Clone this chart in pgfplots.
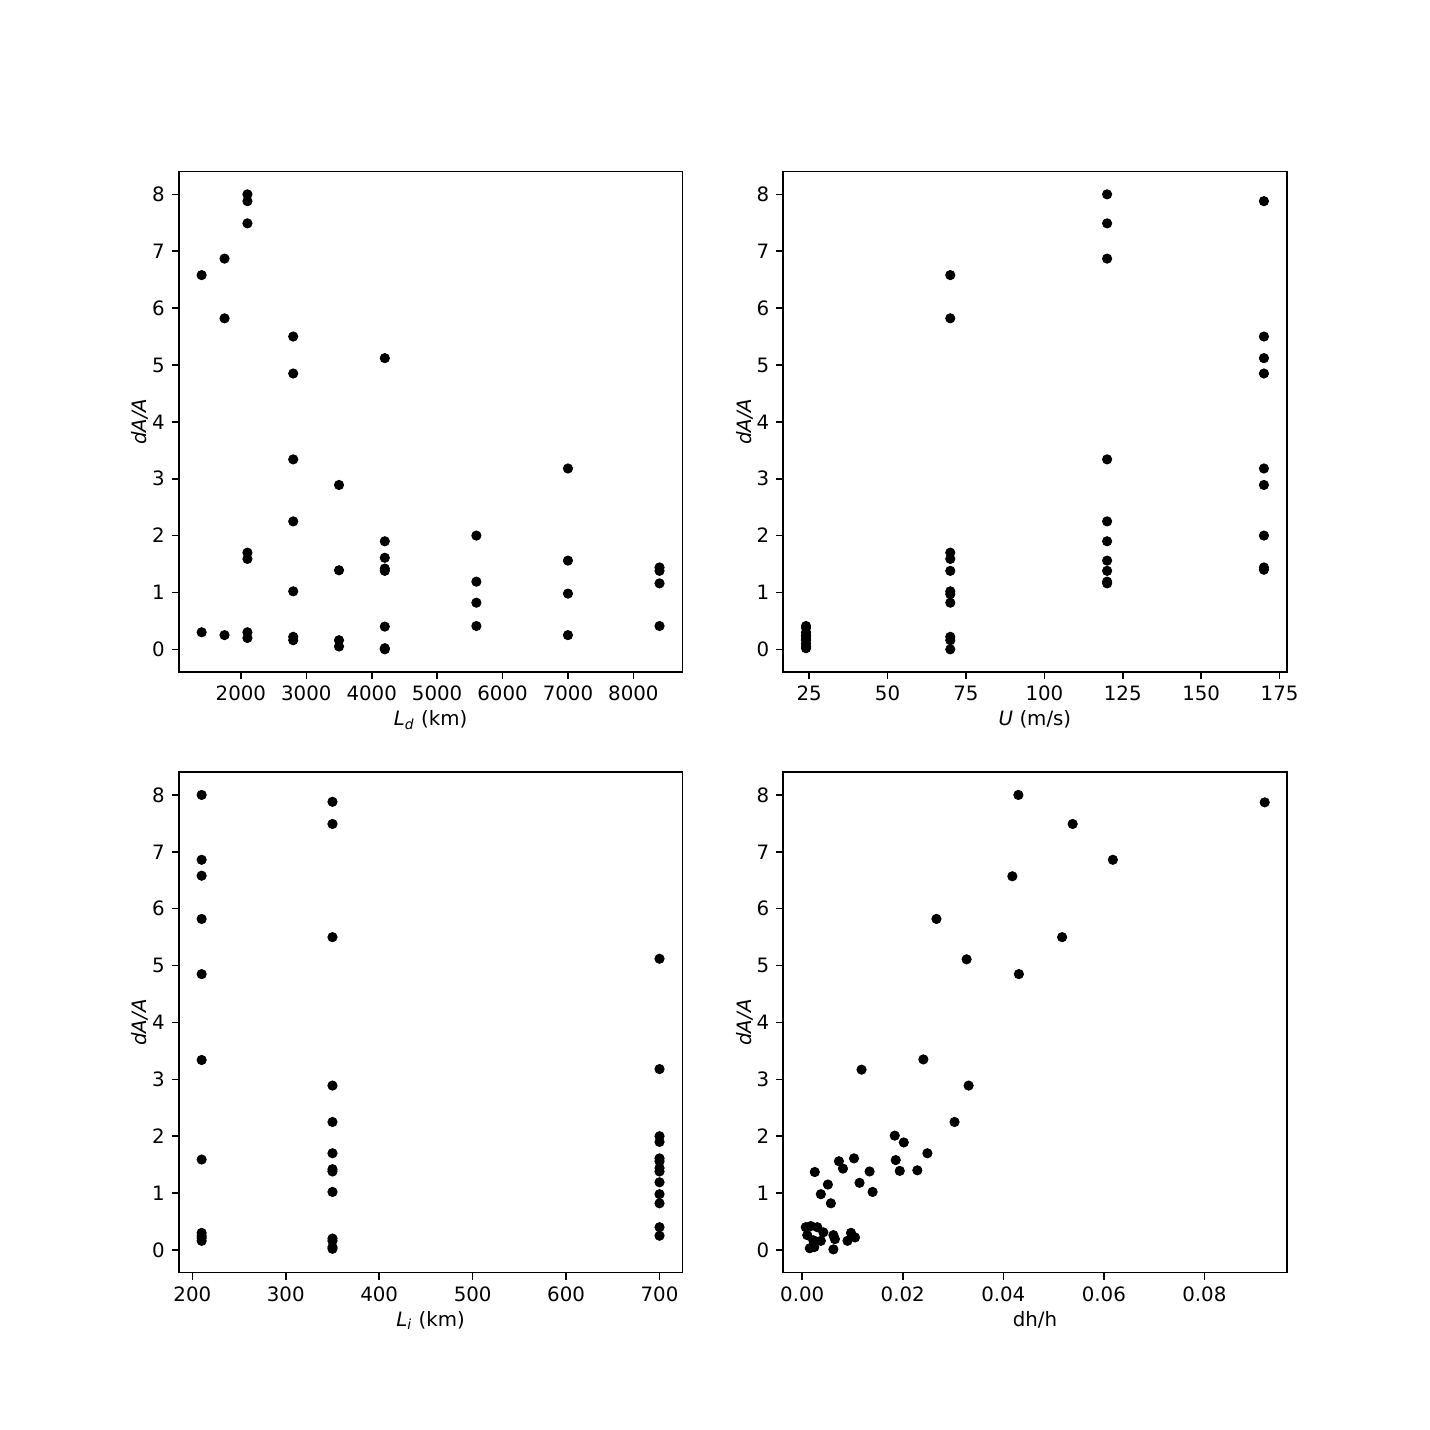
\documentclass[border=0pt]{standalone}
\usepackage{pgfplots}
\pgfplotsset{compat=1.18}
\usepackage{fontspec}
\setmainfont{DejaVu Sans}

\pgfplotsset{
  panel/.style={
    scale only axis, width=253.6bp, height=252bp, anchor=south west,
    ymin=-0.4, ymax=8.4, ytick={0,1,2,3,4,5,6,7,8},
    tick pos=left, tick align=outside, major tick length=3.5bp,
    every tick/.style={black, line width=0.8bp},
    axis line style={line width=0.8bp},
    ylabel={\textit{dA/A}},
    ylabel shift=-5bp, xlabel shift=-2bp,
    /pgf/number format/assume math mode=true,
    /pgf/number format/1000 sep={},
    scaled x ticks=false,
    tick label style={font=\fontsize{10}{12}\selectfont},
    label style={font=\fontsize{10}{12}\selectfont},
  },
  dots/.style={only marks, mark=*, mark size=2.35bp, black},
}

\begin{document}
\begin{tikzpicture}
\path[use as bounding box] (0,0) rectangle (720bp,720bp);

%% top left: L_d
\begin{axis}[panel, at={(90bp,381.6bp)},
  xmin=1050, xmax=8750, xtick={2000,3000,4000,5000,6000,7000,8000},
  xlabel={\textit{L}\textsubscript{\textit{d}} (km)}]
\addplot[dots] coordinates {
  (1400,6.58) (1400,0.30)
  (1750,6.87) (1750,5.82) (1750,0.25)
  (2100,8.00) (2100,7.88) (2100,7.49) (2100,1.70) (2100,1.59) (2100,0.30) (2100,0.20)
  (2800,5.50) (2800,4.85) (2800,3.34) (2800,2.25) (2800,1.02) (2800,0.22) (2800,0.16)
  (3500,2.89) (3500,1.39) (3500,0.16) (3500,0.05)
  (4200,5.12) (4200,1.90) (4200,1.61) (4200,1.42) (4200,1.38) (4200,0.40) (4200,0.02) (4200,0.00)
  (5600,2.00) (5600,1.19) (5600,0.82) (5600,0.41)
  (7000,3.18) (7000,1.56) (7000,0.98) (7000,0.25)
  (8400,1.44) (8400,1.38) (8400,1.16) (8400,0.41)
};
\end{axis}

%% top right: U
\begin{axis}[panel, at={(394.3bp,381.6bp)},
  xmin=16.7, xmax=177.3, xtick={25,50,75,100,125,150,175},
  xlabel={\textit{U} (m/s)}]
\addplot[dots] coordinates {
  (24,0.41) (24,0.38) (24,0.30) (24,0.25) (24,0.22) (24,0.18) (24,0.16) (24,0.10) (24,0.05) (24,0.02)
  (70,6.58) (70,5.82) (70,1.70) (70,1.59) (70,1.38) (70,1.02) (70,0.97) (70,0.82) (70,0.22) (70,0.16) (70,0.00)
  (120,8.00) (120,7.49) (120,6.87) (120,3.34) (120,2.25) (120,1.90) (120,1.56) (120,1.38) (120,1.19) (120,1.16)
  (170,7.88) (170,5.50) (170,5.12) (170,4.85) (170,3.18) (170,2.89) (170,2.00) (170,1.44) (170,1.40)
};
\end{axis}

%% bottom left: L_i
\begin{axis}[panel, at={(90bp,79.2bp)},
  xmin=185.5, xmax=724.5, xtick={200,300,400,500,600,700},
  xlabel={\textit{L}\textsubscript{\textit{i}} (km)}]
\addplot[dots] coordinates {
  (210,8.00) (210,6.86) (210,6.58) (210,5.82) (210,4.85) (210,3.34) (210,1.59)
  (210,0.30) (210,0.25) (210,0.21) (210,0.16)
  (350,7.88) (350,7.49) (350,5.50) (350,2.89) (350,2.25) (350,1.70) (350,1.42) (350,1.38)
  (350,1.02) (350,0.20) (350,0.16) (350,0.05) (350,0.02)
  (700,5.12) (700,3.18) (700,2.00) (700,1.90) (700,1.61) (700,1.56) (700,1.44) (700,1.38)
  (700,1.19) (700,0.98) (700,0.82) (700,0.40) (700,0.25)
};
\end{axis}

%% bottom right: dh/h
\begin{axis}[panel, at={(394.3bp,79.2bp)},
  xmin=-0.0038, xmax=0.0964, xtick={0,0.02,0.04,0.06,0.08},
  xticklabel style={/pgf/number format/.cd, fixed, fixed zerofill, precision=2},
  xlabel={dh/h}]
\addplot[dots] coordinates {
  (0.0303,2.25) (0.0184,2.01) (0.0202,1.89) (0.0249,1.70) (0.0186,1.58) (0.0194,1.39)
  (0.0229,1.40) (0.0025,1.37) (0.0073,1.56) (0.0081,1.43) (0.0103,1.61) (0.0134,1.38)
  (0.0114,1.18) (0.0140,1.02) (0.0051,1.15) (0.0037,0.98) (0.0057,0.82)
  (0.0007,0.40) (0.0017,0.42) (0.0030,0.40) (0.0042,0.31) (0.0010,0.26) (0.0022,0.17)
  (0.0037,0.16) (0.0062,0.26) (0.0065,0.19) (0.0097,0.30) (0.0105,0.22) (0.0090,0.16)
  (0.0015,0.03) (0.0024,0.05) (0.0062,0.01)
  (0.0430,8.00) (0.0920,7.87) (0.0538,7.49) (0.0618,6.86) (0.0418,6.57) (0.0267,5.82)
  (0.0517,5.50) (0.0327,5.11) (0.0431,4.85) (0.0241,3.35) (0.0118,3.17) (0.0331,2.89)
};
\end{axis}
\end{tikzpicture}
\end{document}
